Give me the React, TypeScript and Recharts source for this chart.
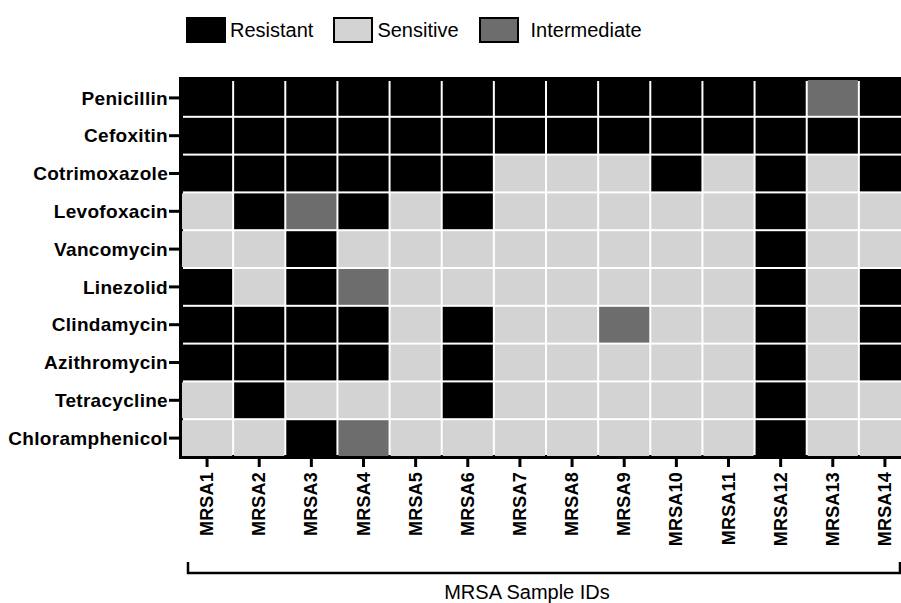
import React from "react";
import { ReferenceArea, Scatter, ScatterChart, XAxis, YAxis } from "recharts";

const SAMPLES = [
    "MRSA1", "MRSA2", "MRSA3", "MRSA4", "MRSA5", "MRSA6", "MRSA7",
    "MRSA8", "MRSA9", "MRSA10", "MRSA11", "MRSA12", "MRSA13", "MRSA14",
];

const DRUGS = [
    "Penicillin", "Cefoxitin", "Cotrimoxazole", "Levofoxacin", "Vancomycin",
    "Linezolid", "Clindamycin", "Azithromycin", "Tetracycline", "Chloramphenicol",
];

// one string per drug, one letter per sample: R = resistant, S = sensitive, I = intermediate
const RESULTS = [
    "RRRRRRRRRRRRIR",
    "RRRRRRRRRRRRRR",
    "RRRRRRSSSRSRSR",
    "SRIRSRSSSSSRSS",
    "SSRSSSSSSSSRSS",
    "RSRISSSSSSSRSR",
    "RRRRSRSSISSRSR",
    "RRRRSRSSSSSRSR",
    "SRSSSRSSSSSRSS",
    "SSRISSSSSSSRSS",
];

const STATUS_LABELS: Record<string, string> = {
    R: "Resistant",
    S: "Sensitive",
    I: "Intermediate",
};

const STATUS_COLORS: Record<string, string> = {
    R: "#000000",
    S: "#d3d3d3",
    I: "#6d6d6d",
};

const FONT = '"Liberation Sans", Arial, sans-serif';

const CHART_W = 912;
const CHART_H = 603;
const MARGIN = { top: 79, right: 1, bottom: 0, left: 0 };
const Y_AXIS_W = 181;
const X_AXIS_H = 146;
const PLOT_W = CHART_W - MARGIN.left - MARGIN.right - Y_AXIS_W;
const PLOT_H = CHART_H - MARGIN.top - MARGIN.bottom - X_AXIS_H;
const CELL_W = PLOT_W / SAMPLES.length;
const CELL_H = PLOT_H / DRUGS.length;

const cells = DRUGS.flatMap((drug, row) =>
    SAMPLES.map((sample, col) => ({
        x: col + 1,
        y: row + 1,
        drug,
        sample,
        status: RESULTS[row][col],
    }))
);

function CellShape(props: any) {
    const { cx, cy, payload } = props;
    if (cx == null || cy == null) return null;
    return (
        <rect
            x={cx - CELL_W / 2 + 1}
            y={cy - CELL_H / 2 + 1}
            width={CELL_W - 2}
            height={CELL_H - 2}
            fill={STATUS_COLORS[payload.status]}
        />
    );
}

function SampleTick({ x, y, payload }: any) {
    return (
        <text
            x={x}
            y={y}
            transform={`rotate(-90 ${x} ${y})`}
            textAnchor="end"
            dominantBaseline="central"
            fontSize={18}
            fontWeight="bold"
            fontFamily={FONT}
            letterSpacing={0.2}
            fill="#000"
        >
            {SAMPLES[payload.value - 1]}
        </text>
    );
}

function BracketLabel() {
    const left = 188;
    const right = 900;
    const top = 562;
    const bottom = 573;
    return (
        <g>
            <path
                d={`M${left},${top} V${bottom} H${right} V${top}`}
                fill="none"
                stroke="#000"
                strokeWidth={2.5}
            />
            <text
                x={527}
                y={599}
                textAnchor="middle"
                fontSize={20}
                fontFamily={FONT}
                fill="#000"
            >
                MRSA Sample IDs
            </text>
        </g>
    );
}

function LegendBox() {
    return (
        <div
            style={{
                position: "absolute",
                top: 17,
                left: 186,
                display: "flex",
                alignItems: "center",
                fontFamily: FONT,
                fontSize: 20,
                color: "#000",
            }}
        >
            {Object.keys(STATUS_LABELS).map((k, i) => (
                <div
                    key={k}
                    style={{ display: "flex", alignItems: "center", marginLeft: i === 0 ? 0 : 20 }}
                >
                    <span
                        style={{
                            width: 36,
                            height: 22,
                            background: STATUS_COLORS[k],
                            border: "2px solid #000",
                            display: "inline-block",
                        }}
                    />
                    <span style={{ marginLeft: k === "I" ? 12 : 4 }}>{STATUS_LABELS[k]}</span>
                </div>
            ))}
        </div>
    );
}

export default function App() {
    return (
        <div
            style={{
                position: "absolute",
                left: 0,
                top: 0,
                width: 901,
                height: 603,
                overflow: "hidden",
                background: "#fff",
            }}
        >
            <LegendBox />
            <ScatterChart width={CHART_W} height={CHART_H} margin={MARGIN}>
                <XAxis
                    type="number"
                    dataKey="x"
                    domain={[0.5, SAMPLES.length + 0.5]}
                    ticks={SAMPLES.map((_, i) => i + 1)}
                    interval={0}
                    height={X_AXIS_H}
                    axisLine={false}
                    tickLine={{ stroke: "#000", strokeWidth: 3 }}
                    tickSize={10}
                    tickMargin={5}
                    tick={<SampleTick />}
                    label={<BracketLabel />}
                />
                <YAxis
                    type="number"
                    dataKey="y"
                    reversed
                    domain={[0.5, DRUGS.length + 0.5]}
                    ticks={DRUGS.map((_, i) => i + 1)}
                    interval={0}
                    width={Y_AXIS_W}
                    axisLine={false}
                    tickLine={{ stroke: "#000", strokeWidth: 3 }}
                    tickSize={12}
                    tickMargin={1}
                    tickFormatter={(v: number) => DRUGS[v - 1]}
                    tick={{
                        fill: "#000",
                        fontSize: 19,
                        fontWeight: "bold",
                        fontFamily: FONT,
                        letterSpacing: 0.3,
                    }}
                />
                <Scatter data={cells} shape={<CellShape />} isAnimationActive={false} />
                <ReferenceArea
                    x1={0.5}
                    x2={SAMPLES.length + 0.5}
                    y1={0.5}
                    y2={DRUGS.length + 0.5}
                    fill="none"
                    fillOpacity={0}
                    stroke="#000"
                    strokeWidth={4}
                    ifOverflow="visible"
                />
            </ScatterChart>
        </div>
    );
}
